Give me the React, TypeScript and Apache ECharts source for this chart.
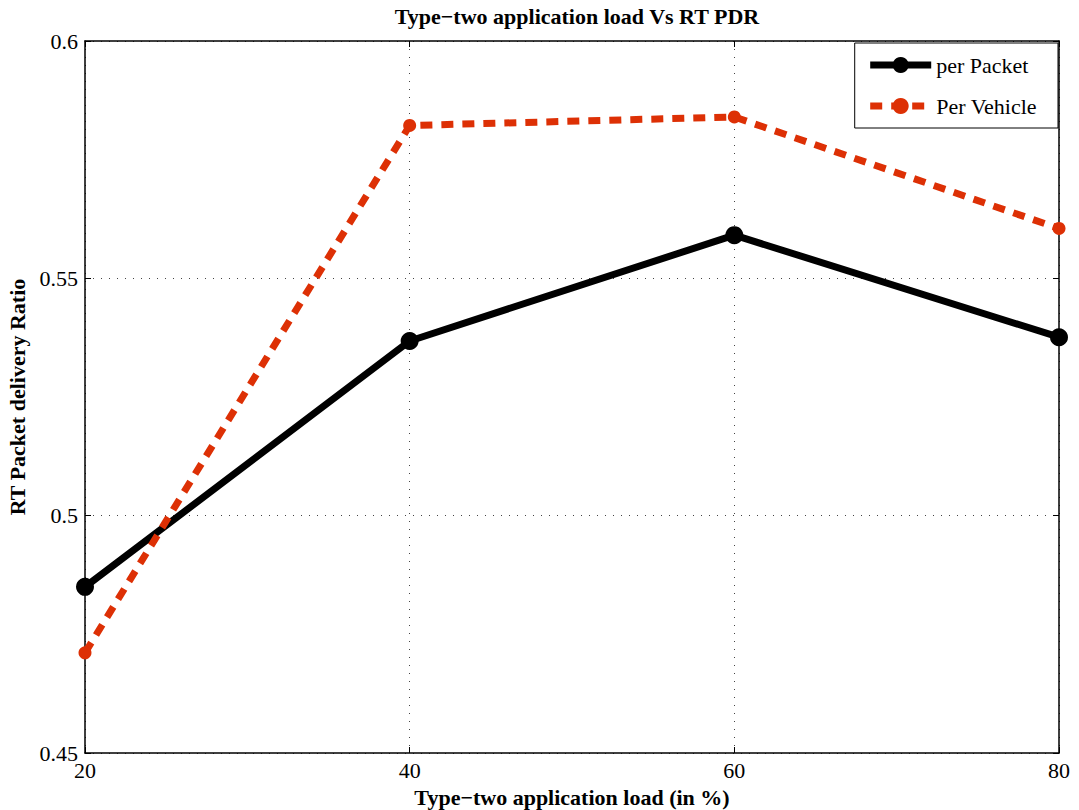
import React, { useEffect, useRef } from "react";
import * as echarts from "echarts";

// Application load (%) on the x axis
const loads = [20, 40, 60, 80];
// RT packet delivery ratio per series
const perPacket = [0.485, 0.5368, 0.5591, 0.5376];
const perVehicle = [0.4711, 0.5822, 0.584, 0.5605];
// Axis ranges and tick spacing
const xRange = { min: 20, max: 80, interval: 20 };
const yRange = { min: 0.45, max: 0.6, interval: 0.05 };

const SERIF = "'Liberation Serif', 'Times New Roman', serif";

export default function App() {
  const ref = useRef<HTMLDivElement>(null);

  useEffect(() => {
    if (!ref.current) return;
    const chart = echarts.init(ref.current, null, { renderer: "svg" });

    const gridLine = { show: true, lineStyle: { color: "#444", width: 1, type: [1, 7] as number[] } };
    const tickIn = { show: true, inside: true, length: 6, lineStyle: { color: "#000", width: 1 } };
    const axisLine = { show: true, onZero: false, lineStyle: { color: "#000", width: 1.5 } };

    chart.setOption({
      animation: false,
      backgroundColor: "#fff",
      textStyle: { fontFamily: SERIF },
      title: {
        text: "Type\u2212two application load Vs RT PDR",
        left: 572,
        textAlign: "center",
        top: 0,
        textStyle: { fontFamily: SERIF, fontWeight: "bold", fontSize: 22, color: "#000" },
      },
      grid: { left: 85, right: 20, top: 41, bottom: 57, containLabel: false, outerBoundsMode: "none" },
      legend: {
        orient: "vertical",
        right: 21,
        top: 43,
        padding: [11, 21, 11, 12],
        itemGap: 19,
        itemWidth: 61,
        itemHeight: 20,
        borderColor: "#000",
        borderWidth: 1,
        borderRadius: 0,
        backgroundColor: "#fff",
        lineStyle: { width: 7 },
        textStyle: { fontFamily: SERIF, fontSize: 22, color: "#000" },
        data: ["per Packet", "Per Vehicle"],
      },
      xAxis: [
        {
          type: "value",
          ...xRange,
          position: "bottom",
          name: "Type\u2212two application load (in %)",
          nameLocation: "middle",
          nameGap: 33,
          nameTextStyle: { fontFamily: SERIF, fontWeight: "bold", fontSize: 22, color: "#000" },
          axisLine,
          axisTick: tickIn,
          axisLabel: { fontFamily: SERIF, fontSize: 22, color: "#000", margin: 6 },
          splitLine: gridLine,
        },
        {
          type: "value",
          ...xRange,
          position: "top",
          axisLine,
          axisTick: tickIn,
          axisLabel: { show: false },
          splitLine: { show: false },
        },
      ],
      yAxis: [
        {
          type: "value",
          ...yRange,
          position: "left",
          name: "RT Packet delivery Ratio",
          nameLocation: "middle",
          nameGap: 52,
          nameTextStyle: { fontFamily: SERIF, fontWeight: "bold", fontSize: 22, color: "#000" },
          axisLine,
          axisTick: tickIn,
          axisLabel: {
            fontFamily: SERIF,
            fontSize: 22,
            color: "#000",
            margin: 7,
            formatter: (v: number) => String(Number(v.toFixed(2))),
          },
          splitLine: gridLine,
        },
        {
          type: "value",
          ...yRange,
          position: "right",
          axisLine,
          axisTick: tickIn,
          axisLabel: { show: false },
          splitLine: { show: false },
        },
      ],
      series: [
        {
          name: "per Packet",
          type: "line",
          data: loads.map((x, i) => [x, perPacket[i]]),
          symbol: "circle",
          symbolSize: 18,
          itemStyle: { color: "#000" },
          lineStyle: { color: "#000", width: 7 },
          z: 3,
        },
        {
          name: "Per Vehicle",
          type: "line",
          data: loads.map((x, i) => [x, perVehicle[i]]),
          symbol: "circle",
          symbolSize: 13,
          itemStyle: { color: "#dd3005" },
          lineStyle: { color: "#dd3005", width: 7, type: [12, 9], cap: "butt" },
          z: 4,
        },
      ],
    });

    return () => chart.dispose();
  }, []);

  return <div ref={ref} style={{ width: 1079, height: 810, position: "absolute", left: 0, top: 0 }} />;
}
